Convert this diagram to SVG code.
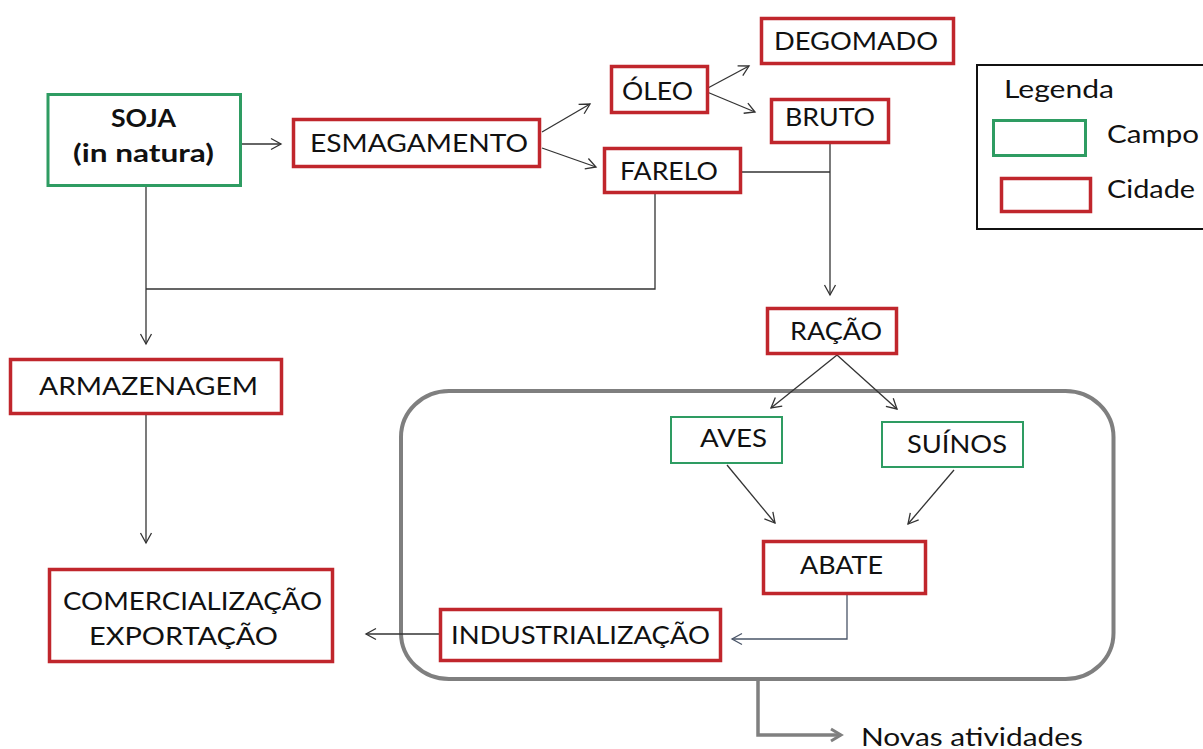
<svg xmlns="http://www.w3.org/2000/svg" width="1203" height="749" viewBox="0 0 1203 749">
<style>
.r{fill:#fff;stroke:#c0262c;stroke-width:3.5}
.g{fill:#fff;stroke:#2e9c62;stroke-width:3}
.g2{fill:#fff;stroke:#2e9c62;stroke-width:2}
.t{font-family:Lato,"Open Sans","Liberation Sans",sans-serif;font-size:25px;fill:#111}
.b{font-weight:bold}
.c{fill:none;stroke:#333;stroke-width:1.3}
.cb{fill:none;stroke:#4a5568;stroke-width:1.3}
.gy{fill:none;stroke:#808080;stroke-width:3.5}
</style>
<defs>
<marker id="a" markerUnits="userSpaceOnUse" markerWidth="14" markerHeight="14" refX="12" refY="7" orient="auto">
<path d="M2,1.5 L12,7 L2,12.5" fill="none" stroke="#333" stroke-width="1.3"/>
</marker>
<marker id="ab" markerUnits="userSpaceOnUse" markerWidth="14" markerHeight="14" refX="12" refY="7" orient="auto">
<path d="M2,1.5 L12,7 L2,12.5" fill="none" stroke="#4a5568" stroke-width="1.3"/>
</marker>
<marker id="ag" markerUnits="userSpaceOnUse" markerWidth="16" markerHeight="16" refX="13" refY="8" orient="auto">
<path d="M3,2 L13,8 L3,14" fill="none" stroke="#808080" stroke-width="3"/>
</marker>
</defs>
<rect width="1203" height="749" fill="#fff"/>

<g id="grupo">
<rect x="401" y="391" width="712.5" height="288" rx="48" ry="46" fill="none" stroke="#7f7f7f" stroke-width="4"/>
</g>

<g id="connectors">
<path class="c" d="M242,144 H281" marker-end="url(#a)"/>
<path class="c" d="M542,132 L590,104" marker-end="url(#a)"/>
<path class="c" d="M542,148 L596,167" marker-end="url(#a)"/>
<path class="c" d="M706,89 L749,66" marker-end="url(#a)"/>
<path class="c" d="M707,92 L755,112" marker-end="url(#a)"/>
<path class="c" d="M742,172 H830"/>
<path class="c" d="M830,144 V295" marker-end="url(#a)"/>
<path class="c" d="M655,194 V289 H146"/>
<path class="c" d="M146,187 V344" marker-end="url(#a)"/>
<path class="c" d="M146,415 V543" marker-end="url(#a)"/>
<path class="c" d="M439,634 H366" marker-end="url(#a)"/>
<path class="cb" d="M847,595 V639 H732" marker-end="url(#ab)"/>
<path class="c" d="M837,355 L771,408" marker-end="url(#a)"/>
<path class="c" d="M837,355 L897,409" marker-end="url(#a)"/>
<path class="c" d="M727,465 L775,523" marker-end="url(#a)"/>
<path class="c" d="M954,470 L908,524" marker-end="url(#a)"/>
<path class="gy" d="M758,680 V735 H841" marker-end="url(#ag)"/>
</g>

<g id="soja">
<rect class="g" x="48" y="94.5" width="192.5" height="91"/>
<text class="t b" x="111" y="127" textLength="65" lengthAdjust="spacingAndGlyphs">SOJA</text>
<text class="t b" x="73" y="162" textLength="141" lengthAdjust="spacingAndGlyphs">(in natura)</text>
</g>
<g id="esmagamento">
<rect class="r" x="293.5" y="119.5" width="246" height="47"/>
<text class="t" x="310" y="152" textLength="218" lengthAdjust="spacingAndGlyphs">ESMAGAMENTO</text>
</g>
<g id="oleo">
<rect class="r" x="611.5" y="66.5" width="96" height="46"/>
<text class="t" x="622" y="100" textLength="71" lengthAdjust="spacingAndGlyphs">ÓLEO</text>
</g>
<g id="degomado">
<rect class="r" x="761.5" y="18.5" width="192" height="45"/>
<text class="t" x="774" y="50" textLength="164" lengthAdjust="spacingAndGlyphs">DEGOMADO</text>
</g>
<g id="bruto">
<rect class="r" x="771.5" y="99.5" width="117" height="43"/>
<text class="t" x="785" y="126" textLength="90" lengthAdjust="spacingAndGlyphs">BRUTO</text>
</g>
<g id="farelo">
<rect class="r" x="604.5" y="148.5" width="136" height="44"/>
<text class="t" x="620" y="180" textLength="98" lengthAdjust="spacingAndGlyphs">FARELO</text>
</g>
<g id="racao">
<rect class="r" x="767.5" y="308.5" width="129" height="45"/>
<text class="t" x="790" y="340" textLength="92" lengthAdjust="spacingAndGlyphs">RAÇÃO</text>
</g>
<g id="aves">
<rect class="g2" x="671" y="417" width="111" height="46"/>
<text class="t" x="700" y="447" textLength="67" lengthAdjust="spacingAndGlyphs">AVES</text>
</g>
<g id="suinos">
<rect class="g2" x="882" y="422" width="141" height="45"/>
<text class="t" x="907" y="453" textLength="100" lengthAdjust="spacingAndGlyphs">SUÍNOS</text>
</g>
<g id="abate">
<rect class="r" x="763.5" y="541.5" width="162" height="52"/>
<text class="t" x="800" y="574" textLength="83" lengthAdjust="spacingAndGlyphs">ABATE</text>
</g>
<g id="industrializacao">
<rect class="r" x="440.5" y="609.5" width="280" height="51"/>
<text class="t" x="451" y="644" textLength="259" lengthAdjust="spacingAndGlyphs">INDUSTRIALIZAÇÃO</text>
</g>
<g id="armazenagem">
<rect class="r" x="10.5" y="359.5" width="271" height="54"/>
<text class="t" x="39" y="395" textLength="219" lengthAdjust="spacingAndGlyphs">ARMAZENAGEM</text>
</g>
<g id="comercializacao">
<rect class="r" x="49.5" y="569.5" width="283" height="92"/>
<text class="t" x="63" y="610" textLength="259" lengthAdjust="spacingAndGlyphs">COMERCIALIZAÇÃO</text>
<text class="t" x="89" y="645" textLength="189" lengthAdjust="spacingAndGlyphs">EXPORTAÇÃO</text>
</g>
<g id="novas">
<text class="t" x="861" y="746" textLength="222" lengthAdjust="spacingAndGlyphs">Novas atividades</text>
</g>

<g id="legenda">
<rect x="977" y="65" width="240" height="164" fill="#fff" stroke="#111" stroke-width="2"/>
<text class="t" x="1004" y="98" textLength="110" lengthAdjust="spacingAndGlyphs">Legenda</text>
<rect class="g" x="993.5" y="120.5" width="92" height="35"/>
<text class="t" x="1107" y="143" textLength="92" lengthAdjust="spacingAndGlyphs">Campo</text>
<rect class="r" x="1001.5" y="178.5" width="89" height="33"/>
<text class="t" x="1107" y="198" textLength="88" lengthAdjust="spacingAndGlyphs">Cidade</text>
</g>
</svg>
